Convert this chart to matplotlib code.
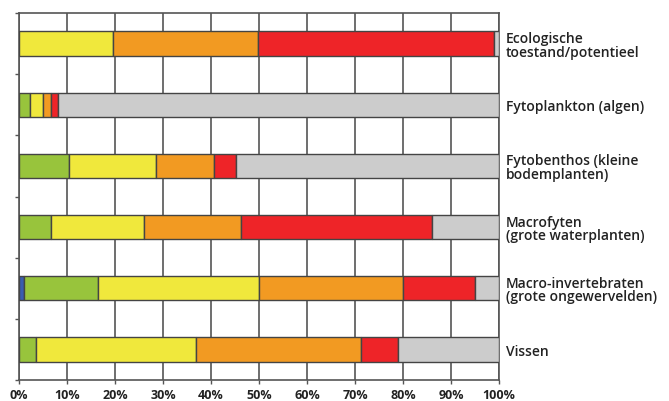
import matplotlib
matplotlib.use("Agg")
import matplotlib.pyplot as plt
import numpy as np

plt.rcParams['font.family'] = ['Open Sans', 'DejaVu Sans']

# categories, top to bottom
categories = ["Ecologische\ntoestand/potentieel",
              "Fytoplankton (algen)",
              "Fytobenthos (kleine\nbodemplanten)",
              "Macrofyten\n(grote waterplanten)",
              "Macro-invertebraten\n(grote ongewervelden)",
              "Vissen"]

# percentages per class (zeer goed, goed, matig, ontoereikend, slecht, onbekend)
blue   = [0.0, 0.0, 0.0, 0.0, 1.1, 0.0]
green  = [0.0, 2.2, 10.5, 6.6, 15.4, 3.6]
yellow = [19.5, 2.9, 18.0, 19.4, 33.4, 33.2]
orange = [30.2, 1.5, 12.2, 20.2, 30.2, 34.4]
red    = [49.3, 1.5, 4.6, 39.8, 14.8, 7.8]
grey   = [1.0, 91.9, 54.7, 14.0, 5.1, 21.0]

series = [blue, green, yellow, orange, red, grey]
colors = ["#3a5cb0", "#98c43c", "#f0e83c", "#f29a22", "#ee2428", "#cccccc"]

fig = plt.figure(figsize=(6.69, 4.02), dpi=100)
ax = fig.add_axes([19/669, 1-381/402, 480/669, 367/402])

ypos = np.arange(len(categories))
left = np.zeros(len(categories))
for vals, c in zip(series, colors):
    vals = np.array(vals)
    mask = vals > 0
    ax.barh(ypos[mask], vals[mask], left=left[mask], height=0.4, color=c,
            edgecolor="#444444", linewidth=1.0, zorder=3)
    left += vals

ax.set_xlim(0, 100)
ax.set_ylim(len(categories) - 0.5, -0.5)

ax.set_xticks(np.arange(0, 101, 10))
ax.set_xticklabels([f"{v}%" for v in range(0, 101, 10)], fontsize=9, fontweight='bold', color="#222222")
ax.xaxis.grid(True, color="#555555", linewidth=1.2, zorder=0)
ax.set_axisbelow(True)

ax.set_yticks(ypos)
ax.set_yticklabels(categories, fontsize=10, fontweight='semibold', ha='left',
                   color="#222222", linespacing=0.95)
ax.set_yticks(np.arange(-0.5, len(categories)), minor=True)
ax.tick_params(axis='y', which='major', left=False, right=False,
               labelleft=False, labelright=True, length=0, pad=5)
ax.tick_params(axis='y', which='minor', left=True, right=False, length=3,
               width=1.0, color="#555555")
ax.tick_params(axis='x', length=3, width=1.0, color="#555555", pad=3)

for s in ax.spines.values():
    s.set_color("#555555")
    s.set_linewidth(1.2)

fig.savefig("out.png", dpi=100)
